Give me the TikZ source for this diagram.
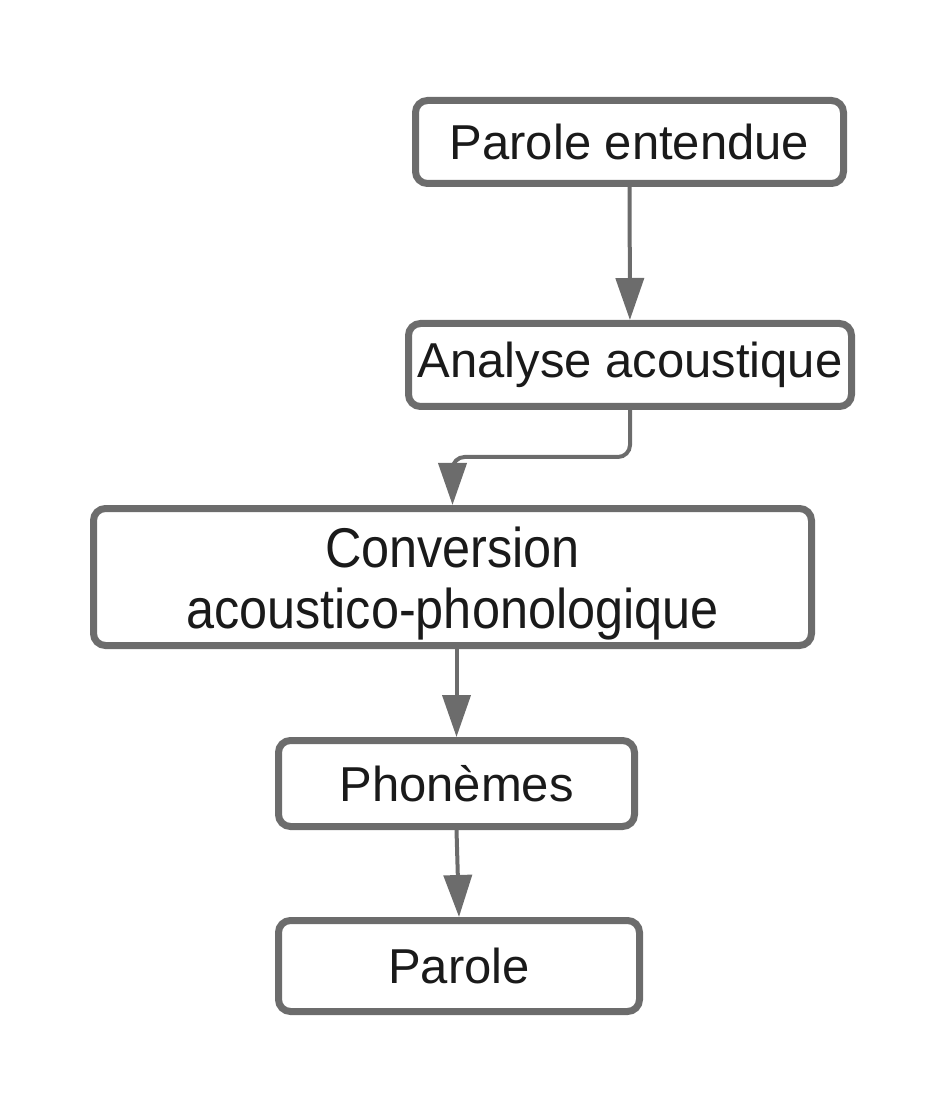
\documentclass[tikz,border=0pt]{standalone}
\usepackage{fontspec}
\setmainfont{Liberation Sans}
\newfontfamily\narrowfont[FakeStretch=0.9]{Liberation Sans}
\usepackage{tikz}
\usetikzlibrary{arrows.meta}
\definecolor{boxgray}{RGB}{108,108,108}
\definecolor{inkblack}{RGB}{26,26,26}

\begin{document}
\begin{tikzpicture}[x=0.5pt,y=-0.5pt,
        stage/.style={draw=boxgray, line width=3.5pt, rounded corners=6pt, fill=white,
                      text=inkblack, inner sep=0pt, font=\fontsize{24.5}{28}\selectfont},
        flow/.style={draw=boxgray, line width=2pt, -{Triangle[length=21pt,width=14pt]}}]
            \useasboundingbox (0,0) rectangle (944,1111);
            \node [stage, minimum width=214pt, minimum height=41.5pt] (entendue) at (629.5,142) {Parole entendue};
            \node [stage, minimum width=221.5pt, minimum height=41.5pt] (analyse) at (630,365) {Analyse acoustique};
            \node [stage, minimum width=359pt, minimum height=68.5pt, align=center,
                   font=\narrowfont\fontsize{28}{30.5}\selectfont] (conversion) at (452.5,577)
                  {\rule{0pt}{27pt}Conversion\\acoustico-phonologique};
            \node [stage, minimum width=178pt, minimum height=43pt] (phonemes) at (456.5,783.5) {Phonèmes};
            \node [stage, minimum width=180.5pt, minimum height=45.5pt] (parole) at (459,966) {Parole};

            \draw [flow] (entendue) -- (analyse);
            \draw [flow, rounded corners=6pt] (analyse.south) -- ++(0,47) -| (conversion.north);
            \draw [flow] (conversion.south -| phonemes.north) -- (phonemes.north);
            \draw [flow] (phonemes.south) -- (parole.north);
        \end{tikzpicture}
\end{document}
